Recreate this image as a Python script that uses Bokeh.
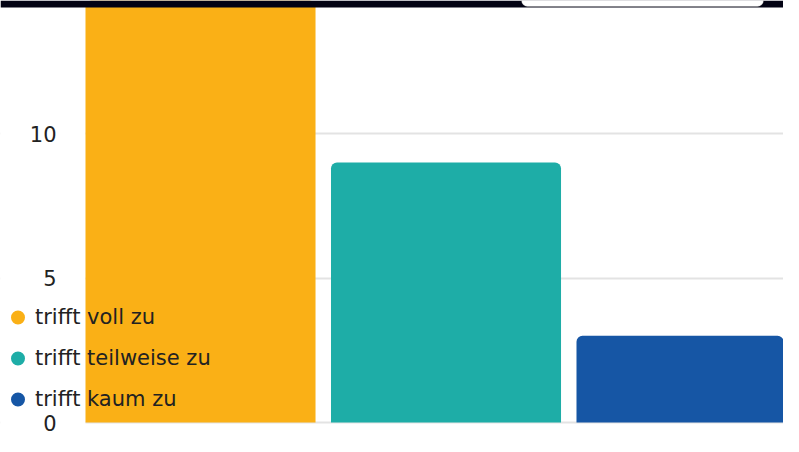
from bokeh.plotting import figure
from bokeh.models import (ColumnDataSource, Range1d, FixedTicker, Legend, LegendItem,
                          BoxAnnotation, Label)
from bokeh.embed import file_html
from bokeh.resources import INLINE

# ---- data ----
categories = ["trifft voll zu", "trifft teilweise zu", "trifft kaum zu"]
values = [15, 9, 3]
colors = ["#FAB016", "#1EADA7", "#1656A5"]
y_ticks = [0, 5, 10]
y_tick_labels = ["0", "5", "10"]

# ---- layout constants ----
W, H = 783, 436
X_START, X_END = -0.8147, 2.3747
Y_START, Y_END = -0.484, 14.602
BAR_W = 0.937
PX_PER_Y = H / (Y_END - Y_START)
PX_PER_X = W / (X_END - X_START)

xs = list(range(len(categories)))
src = ColumnDataSource(dict(x=xs, top=values, color=colors, cat=categories))

p = figure(width=W, height=H, output_backend="svg", toolbar_location=None,
           x_range=Range1d(X_START, X_END), y_range=Range1d(Y_START, Y_END),
           min_border_left=0, min_border_right=0, min_border_top=0,
           min_border_bottom=0)
p.outline_line_color = None
p.background_fill_color = "white"
p.border_fill_color = "white"
p.xaxis.visible = False
p.yaxis.visible = False
p.xgrid.grid_line_color = None

p.ygrid.ticker = FixedTicker(ticks=y_ticks)
p.ygrid.grid_line_color = "#e3e3e3"
p.ygrid.grid_line_width = 2

# hide grid lines left of the first bar (plot area begins there)
p.add_layout(BoxAnnotation(right=xs[0] - BAR_W / 2, fill_color="white", fill_alpha=1,
                           line_color=None, level="underlay"))

p.vbar(x="x", top="top", width=BAR_W, bottom=0, fill_color="color", line_color=None,
       source=src, border_radius=(6, 6, 0, 0))

# invisible markers used only for round legend dots
dots = p.scatter(x="x", y="top", size=0, marker="circle", fill_color="color",
                 line_color=None, source=src)

# y tick labels
for t, lab in zip(y_ticks, y_tick_labels):
    p.add_layout(Label(x=56, x_units="screen", y=t, y_units="data", text=lab,
                       text_align="right", text_baseline="middle",
                       text_font="DejaVu Sans", text_font_size="21px",
                       text_color="#222222"))

items = [LegendItem(label=c, renderers=[dots], index=i) for i, c in enumerate(categories)]
legend = Legend(items=items, location=(0, 18), orientation="vertical",
                padding=0, margin=0, spacing=3, label_standoff=0,
                glyph_width=35, glyph_height=38,
                border_line_color=None, background_fill_alpha=0,
                label_text_font="DejaVu Sans", label_text_font_size="21px",
                label_text_color="#222222")
p.add_layout(legend)

# dark header strip at the top with a white tab
band_h = 7 / PX_PER_Y
p.add_layout(BoxAnnotation(bottom=Y_END - band_h, fill_color="#030314", fill_alpha=1,
                           line_color=None))
tab_h = 6 / PX_PER_Y
p.add_layout(BoxAnnotation(left=X_START + 521 / PX_PER_X, right=X_START + 763 / PX_PER_X,
                           bottom=Y_END - tab_h, top=Y_END + 1,
                           fill_color="white", fill_alpha=1,
                           line_color="#8a8a8a", line_width=1,
                           border_radius=(0, 0, 6, 6)))

open("out.html", "w").write(file_html(p, INLINE))
